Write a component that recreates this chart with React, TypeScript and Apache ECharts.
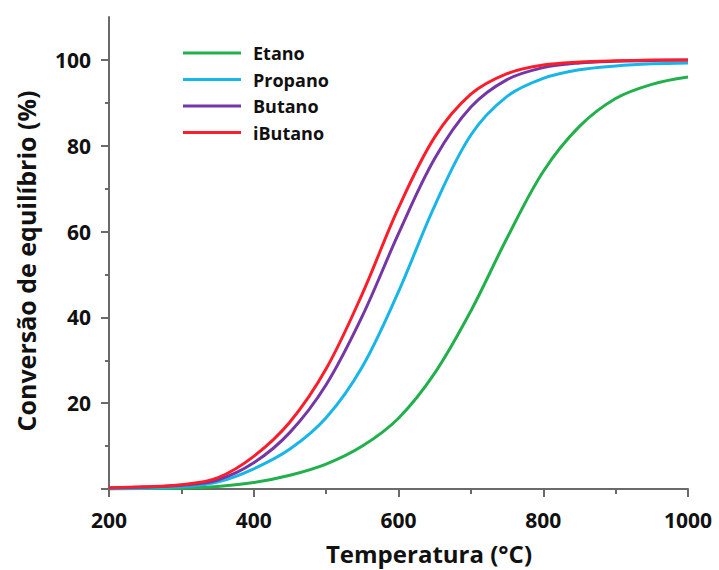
import React, { useEffect, useRef } from "react";
import * as echarts from "echarts";

const temperatures = [200, 250, 300, 350, 400, 450, 500, 550, 600, 650, 700, 750, 800, 850, 900, 950, 1000];
const etano = [0, 0.1, 0.2, 0.6, 1.5, 3.2, 5.8, 10, 16.5, 27, 41.5, 58.5, 74, 84.5, 91, 94.3, 96];
const propano = [0.1, 0.2, 0.5, 1.6, 4.7, 9.3, 16.6, 28.5, 46, 66, 82.5, 91.5, 95.7, 97.7, 98.6, 99.1, 99.3];
const butano = [0.25, 0.45, 0.85, 2.1, 6.1, 13.2, 24.3, 40.3, 59.5, 77, 89, 95.4, 98.2, 99.3, 99.7, 99.85, 99.95];
const ibutano = [0.3, 0.5, 1.0, 2.6, 7.6, 15.6, 28, 45.5, 65.5, 82, 92, 96.8, 98.8, 99.5, 99.8, 99.95, 100];

const seriesNames = ["Etano", "Propano", "Butano", "iButano"];
const seriesColors = ["#21b04b", "#18b6e8", "#7536a6", "#fc1d2b"];
const seriesValues = [etano, propano, butano, ibutano];

const yLabelValues = [20, 40, 60, 80, 100];
const yMajorTicks = [0, 20, 40, 60, 80, 100];
const yMinorTicks = [10, 30, 50, 70, 90];

const xTitle = "Temperatura (°C)";
const yTitle = "Conversão de equilíbrio (%)";

const FONT = "'Open Sans', sans-serif";
const AXIS_COLOR = "#6a6a6a";

export default function App() {
  const ref = useRef<HTMLDivElement>(null);

  useEffect(() => {
    if (!ref.current) return;
    const chart = echarts.init(ref.current, null, { renderer: "svg" });
    const option = {
      animation: false,
      backgroundColor: "#ffffff",
      grid: { left: 109, right: 31, top: 17, bottom: 81 },
      legend: {
        orient: "vertical",
        left: 178,
        top: 38,
        icon: "rect",
        itemWidth: 58,
        itemHeight: 3,
        itemGap: 6.5,
        data: seriesNames,
        textStyle: {
          fontFamily: FONT,
          fontWeight: "bold",
          fontSize: 18,
          color: "#111",
          lineHeight: 20,
          padding: [0, 0, 0, 7],
        },
      },
      xAxis: {
        type: "value",
        min: 200,
        max: 1000,
        interval: 200,
        axisLine: { show: true, lineStyle: { color: AXIS_COLOR, width: 2 } },
        axisTick: { show: true, length: 8, lineStyle: { color: AXIS_COLOR, width: 2 } },
        minorTick: { show: true, splitNumber: 2, length: 5, lineStyle: { color: AXIS_COLOR, width: 2 } },
        splitLine: { show: false },
        minorSplitLine: { show: false },
        axisLabel: {
          margin: 20,
          fontFamily: FONT,
          fontWeight: "bold",
          fontSize: 21,
          color: "#111",
          formatter: (v: number) => String(v),
        },
      },
      yAxis: [
        {
          type: "value",
          min: 0,
          max: 110,
          axisLine: { show: true, lineStyle: { color: AXIS_COLOR, width: 2 } },
          axisTick: { show: true, length: 8, customValues: yMajorTicks, lineStyle: { color: AXIS_COLOR, width: 2 } },
          splitLine: { show: false },
          axisLabel: {
            margin: 18,
            fontFamily: FONT,
            fontWeight: "bold",
            fontSize: 21,
            color: "#111",
            customValues: yLabelValues,
            formatter: (v: number) => String(v),
          },
        },
        {
          type: "value",
          min: 0,
          max: 110,
          position: "left",
          axisLine: { show: false },
          axisTick: { show: true, length: 4, customValues: yMinorTicks, lineStyle: { color: AXIS_COLOR, width: 2 } },
          splitLine: { show: false },
          axisLabel: { show: false },
        },
      ],
      series: seriesNames.map((name, i) => ({
        name,
        type: "line",
        yAxisIndex: 0,
        data: temperatures.map((t, j) => [t, seriesValues[i][j]]),
        smooth: 0.35,
        showSymbol: false,
        symbol: "none",
        color: seriesColors[i],
        lineStyle: { color: seriesColors[i], width: 3 },
      })),
      graphic: [
        {
          type: "text",
          x: 429,
          y: 553,
          style: {
            text: xTitle,
            fontFamily: FONT,
            fontWeight: "bold",
            fontSize: 24,
            fill: "#111",
            align: "center",
            verticalAlign: "middle",
          },
        },
        {
          type: "text",
          x: 26,
          y: 261,
          rotation: Math.PI / 2,
          style: {
            text: yTitle,
            fontFamily: FONT,
            fontWeight: "bold",
            fontSize: 25,
            fill: "#111",
            align: "center",
            verticalAlign: "middle",
          },
        },
      ],
    };
    chart.setOption(option as any);
    return () => chart.dispose();
  }, []);

  return (
    <div
      ref={ref}
      style={{ position: "fixed", left: 0, top: 0, width: 719, height: 570 }}
    />
  );
}
